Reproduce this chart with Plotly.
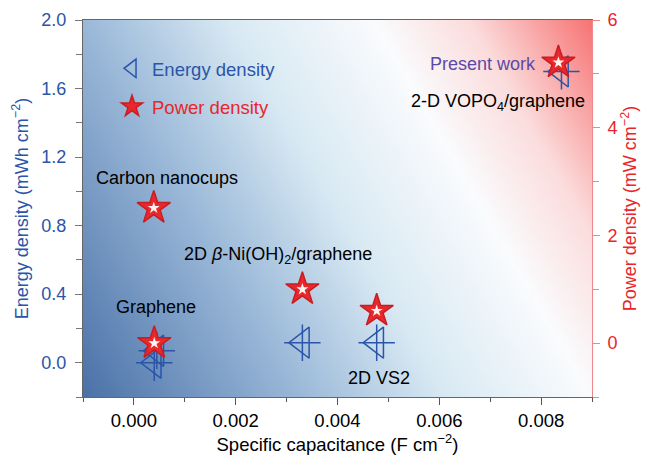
import numpy as np
import plotly.graph_objects as go

# ---- data ----
energy_x = [0.00045, 0.00040, 0.00331, 0.00477, 0.00840]
energy_y = [0.07, 0.00, 0.117, 0.117, 1.70]          # mWh cm^-2
power_x = [0.00039, 0.00040, 0.00331, 0.00477, 0.00834]
power_y = [2.51, 0.00, 1.00, 0.60, 5.21]              # mW cm^-2

x_ticks = [0.000, 0.002, 0.004, 0.006, 0.008]
y_ticks = [0.0, 0.4, 0.8, 1.2, 1.6, 2.0]
y2_ticks = [0, 2, 4, 6]

labels = ["Present work", "2-D VOPO<sub>4</sub>/graphene", "Carbon nanocups",
          "2D <i>β</i>-Ni(OH)<sub>2</sub>/graphene", "Graphene", "2D VS2"]
label_x = [0.00685, 0.00715, 0.00065, 0.00283, 0.000426, 0.00481]
label_y = [1.746, 1.52, 1.077, 0.627, 0.327, -0.09]
label_col = ["#5a4aa8", "black", "black", "black", "black", "black"]

XR = [-0.001, 0.009]
YR = [-0.2, 2.0]
Y2R = [-1.0, 6.0]

BLUE = "#2a55a8"
RED = "#e8262a"
FONT = "Liberation Sans, Arial, Helvetica, sans-serif"

fig = go.Figure()

# background gradient
gx = np.linspace(XR[0], XR[1], 80)
gy = np.linspace(YR[0], YR[1], 80)
U, V = np.meshgrid((gx - XR[0]) / (XR[1] - XR[0]), (gy - YR[0]) / (YR[1] - YR[0]))
Z = 0.7 * U + 0.3 * V
fig.add_trace(go.Heatmap(
    x=gx, y=gy, z=Z, zmin=0, zmax=1, zsmooth="best", showscale=False,
    hoverinfo="skip", showlegend=False,
    colorscale=[[0, "#4a71a7"], [0.3, "#9ab8d8"], [0.5, "#d8e9f3"],
                [0.7, "#fafbfd"], [0.83, "#fbdcdc"], [1, "#f77272"]],
))

# energy density markers (triangle + cross)
fig.add_trace(go.Scatter(
    x=energy_x, y=energy_y, mode="markers", name="<span style='color:%s'>Energy density</span>" % BLUE,
    legendgroup="e",
    marker=dict(symbol="triangle-left-open", size=27, color=BLUE, line=dict(width=1.5, color=BLUE)),
))
fig.add_trace(go.Scatter(
    x=energy_x, y=energy_y, mode="markers", showlegend=False, legendgroup="e",
    marker=dict(symbol="cross-thin-open", size=26, color=BLUE, line=dict(width=1.5, color=BLUE)),
))

# power density stars
fig.add_trace(go.Scatter(
    x=power_x, y=power_y, yaxis="y2", mode="markers",
    name="<span style='color:%s'>Power density</span>" % RED, legendgroup="p",
    marker=dict(symbol="star", size=25, color="#e8282c", line=dict(width=1.5, color="#c81e22")),
))
fig.add_trace(go.Scatter(
    x=power_x, y=power_y, yaxis="y2", mode="markers", showlegend=False, legendgroup="p",
    hoverinfo="skip",
    marker=dict(symbol="star", size=9, color="#fff4ee", line=dict(width=0)),
))

for t, xx, yy, c in zip(labels, label_x, label_y, label_col):
    fig.add_annotation(x=xx, y=yy, xref="x", yref="y", text=t, showarrow=False,
                       font=dict(size=18, color=c, family=FONT))

fig.update_layout(
    width=645, height=457,
    margin=dict(l=83, r=53, t=20, b=60),
    paper_bgcolor="white", plot_bgcolor="white",
    font=dict(family=FONT, size=18, color="black"),
    showlegend=True,
    legend=dict(x=0.057, y=0.921, xanchor="left", yanchor="top", bgcolor="rgba(0,0,0,0)",
                font=dict(size=18.5), tracegroupgap=11, traceorder="grouped"),
    xaxis=dict(range=XR, tickvals=x_ticks, ticktext=["%.3f" % v for v in x_ticks],
               ticks="outside", ticklen=7, tickcolor="#555", showline=True, linecolor="#666",
               mirror=True, showgrid=False, zeroline=False, automargin=False,
               minor=dict(dtick=0.001, ticks="outside", ticklen=4, tickcolor="#555"),
               title=dict(text="Specific capacitance (F cm<sup>−2</sup>)", standoff=6,
                          font=dict(size=18.5)),
               tickfont=dict(size=18.5)),
    yaxis=dict(range=YR, tickvals=y_ticks, ticktext=["%.1f" % v for v in y_ticks],
               ticks="outside", ticklen=7, tickcolor="#777", showline=True, linecolor="#666",
               showgrid=False, zeroline=False, automargin=False, ticklabelstandoff=5,
               minor=dict(dtick=0.2, ticks="outside", ticklen=6, tickcolor="#777"),
               tickfont=dict(size=18, color=BLUE),
               title=dict(text="Energy density (mWh cm<sup>−2</sup>)", font=dict(size=18, color=BLUE),
                          standoff=8)),
    yaxis2=dict(range=Y2R, overlaying="y", side="right", tickvals=y2_ticks,
                ticks="outside", ticklen=7, tickcolor="#ee8888", showline=True, linecolor="#ee8888",
                showgrid=False, zeroline=False, automargin=False, ticklabelstandoff=4,
                minor=dict(dtick=1, ticks="outside", ticklen=6, tickcolor="#ee8888"),
                tickfont=dict(size=18, color=RED),
                title=dict(text="Power density (mW cm<sup>−2</sup>)", font=dict(size=18, color=RED),
                           standoff=6)),
)

fig.write_html("out.html", config={"displayModeBar": False},
               post_script="document.body.style.margin='0';")
